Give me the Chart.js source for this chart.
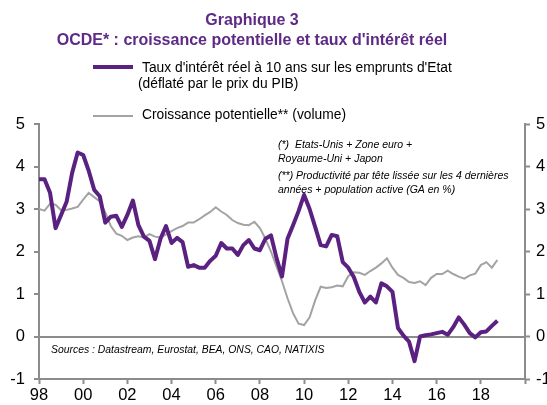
<!DOCTYPE html>
<html><head><meta charset="utf-8">
<script src="https://cdn.jsdelivr.net/npm/chart.js@4.4.1/dist/chart.umd.min.js"></script>
<style>html,body{margin:0;padding:0;background:#fff;}#wrap{width:547px;height:405px;position:relative;}</style>
</head><body><div id="wrap"><canvas id="c" width="547" height="405"></canvas></div>
<script>
const titleLines = ['Graphique 3', "OCDE* : croissance potentielle et taux d'intérêt réel"];
const seriesNames = ["Taux d'intérêt réel à 10 ans sur les emprunts d'Etat", 'Croissance potentielle** (volume)'];
const seriesSubtitle = '(déflaté par le prix du PIB)';
const noteLines = ['(*)  Etats-Unis + Zone euro +', 'Royaume-Uni + Japon', '(**) Productivité par tête lissée sur les 4 dernières', 'années + population active (GA en %)'];
const sourceText = 'Sources : Datastream, Eurostat, BEA, ONS, CAO, NATIXIS';
const xTickYears = [1998, 2000, 2002, 2004, 2006, 2008, 2010, 2012, 2014, 2016, 2018];
const xTickLabels = ['98', '00', '02', '04', '06', '08', '10', '12', '14', '16', '18'];
const yTickValues = [-1, 0, 1, 2, 3, 4, 5];
// quarters 1998T1 .. 2018T4 (position in years)
const quarters = [];
for (let y = 1998; y <= 2018; y++) { for (let q = 0; q < 4; q++) quarters.push(y + q / 4); }

const tauxReel = [
 3.70,3.70,3.38,2.55, 2.86,3.17,3.85,4.33, 4.27,3.90,3.45,3.30, 2.68,2.82,2.84,2.58,
 2.86,3.20,2.62,2.35, 2.25,1.82,2.30,2.60, 2.20,2.32,2.22,1.64, 1.68,1.62,1.62,1.78,
 1.90,2.20,2.07,2.07, 1.92,2.15,2.27,2.07, 2.03,2.30,2.38,1.85, 1.41,2.30,2.62,2.95,
 3.33,3.00,2.58,2.15, 2.12,2.39,2.36,1.75, 1.62,1.40,1.05,0.80, 0.94,0.80,1.25,1.18,
 1.05,0.20,0.02,-0.12, -0.58,0.00,0.03,0.05, 0.08,0.11,0.04,0.22, 0.45,0.28,0.08,-0.02,
 0.10,0.12,0.25,0.37
];
const croissancePot = [
 3.00,2.96,3.12,3.10, 2.97,2.98,3.01,3.05, 3.22,3.38,3.28,3.18, 2.92,2.60,2.42,2.37,
 2.27,2.33,2.36,2.33, 2.41,2.35,2.33,2.40, 2.48,2.55,2.60,2.68, 2.68,2.76,2.85,2.93,
 3.04,2.94,2.86,2.74, 2.67,2.63,2.62,2.70, 2.55,2.30,2.00,1.65, 1.30,0.90,0.55,0.30,
 0.27,0.45,0.85,1.17, 1.14,1.16,1.20,1.18, 1.42,1.51,1.50,1.45, 1.54,1.62,1.72,1.84,
 1.62,1.45,1.38,1.28, 1.26,1.30,1.21,1.38, 1.47,1.47,1.55,1.47, 1.41,1.36,1.44,1.48,
 1.68,1.75,1.62,1.80
];

const PURPLE = '#5a2181';
const TITLE_PURPLE = '#5e2a86';
const GREY = '#a3a3a3';
const AXIS = '#8c8c8c';
const FONT = "'Liberation Sans', Arial, sans-serif";

const decorPlugin = {
  id: 'decor',
  afterDraw(chart) {
    const ctx = chart.ctx;
    ctx.save();
    ctx.textBaseline = 'middle';
    // title
    ctx.fillStyle = TITLE_PURPLE;
    ctx.textAlign = 'center';
    ctx.font = 'bold 16px ' + FONT;
    ctx.fillText(titleLines[0], 252, 21);
    ctx.fillText(titleLines[1], 252, 41);
    // legend
    ctx.textAlign = 'left';
    ctx.lineCap = 'butt';
    ctx.strokeStyle = PURPLE; ctx.lineWidth = 4;
    ctx.beginPath(); ctx.moveTo(93, 67); ctx.lineTo(133, 67); ctx.stroke();
    ctx.strokeStyle = GREY; ctx.lineWidth = 2;
    ctx.beginPath(); ctx.moveTo(93, 116); ctx.lineTo(133, 116); ctx.stroke();
    ctx.fillStyle = '#000';
    ctx.font = '13.8px ' + FONT;
    ctx.fillText(seriesNames[0], 142, 68);
    ctx.fillText(seriesSubtitle, 138, 84);
    ctx.fillText(seriesNames[1], 142, 115);
    // notes
    ctx.font = 'italic 10.5px ' + FONT;
    ctx.fillText(noteLines[0], 278, 145);
    ctx.fillText(noteLines[1], 278, 159);
    ctx.fillText(noteLines[2], 278, 176);
    ctx.fillText(noteLines[3], 278, 190);
    ctx.font = 'italic 10.4px ' + FONT;
    ctx.fillText(sourceText, 51, 350);
    ctx.restore();
  }
};

new Chart(document.getElementById('c'), {
  type: 'line',
  data: {
    datasets: [
      { label: seriesNames[0], data: quarters.map((q, i) => ({ x: q, y: tauxReel[i] })),
        borderColor: PURPLE, borderWidth: 4, pointRadius: 0, tension: 0, borderJoinStyle: 'round', yAxisID: 'y' },
      { label: seriesNames[1], data: quarters.map((q, i) => ({ x: q, y: croissancePot[i] })),
        borderColor: GREY, borderWidth: 2, pointRadius: 0, tension: 0, yAxisID: 'y' }
    ]
  },
  options: {
    responsive: false, animation: false, devicePixelRatio: 1,
    layout: { padding: { top: 124, left: 0, right: 0, bottom: 0 } },
    plugins: { legend: { display: false }, title: { display: false }, tooltip: { enabled: false } },
    scales: {
      x: {
        type: 'linear', min: 1998, max: 2020,
        afterBuildTicks: s => { s.ticks = xTickYears.concat([2020]).map(v => ({ value: v })); },
        ticks: { callback: v => { const k = xTickYears.indexOf(v); return k >= 0 ? xTickLabels[k] : ''; },
                 font: { family: FONT, size: 16.5 }, color: '#000', maxRotation: 0, autoSkip: false, padding: 2 },
        grid: { drawOnChartArea: false, drawTicks: true, tickLength: 5, tickColor: AXIS, tickWidth: 2 },
        border: { display: true, color: AXIS, width: 2 },
        afterFit: s => { s.height = 26; }
      },
      y: {
        position: 'left', min: -1, max: 5,
        afterBuildTicks: s => { s.ticks = yTickValues.map(v => ({ value: v })); },
        ticks: { font: { family: FONT, size: 16.5 }, color: '#000', padding: 9 },
        grid: { drawOnChartArea: true, color: c => (c.tick && c.tick.value === 0) ? AXIS : 'rgba(0,0,0,0)',
                lineWidth: 2, tickColor: AXIS, tickLength: 5, tickWidth: 2 },
        border: { display: true, color: AXIS, width: 2 },
        afterFit: s => { s.width = 39; }
      },
      y2: {
        position: 'right', min: -1, max: 5,
        afterBuildTicks: s => { s.ticks = yTickValues.map(v => ({ value: v })); },
        ticks: { font: { family: FONT, size: 16.5 }, color: '#000', padding: 6 },
        grid: { drawOnChartArea: false, tickColor: AXIS, tickLength: 5, tickWidth: 2 },
        border: { display: true, color: AXIS, width: 2 },
        afterFit: s => { s.width = 22; }
      }
    }
  },
  plugins: [decorPlugin]
});
</script></body></html>
